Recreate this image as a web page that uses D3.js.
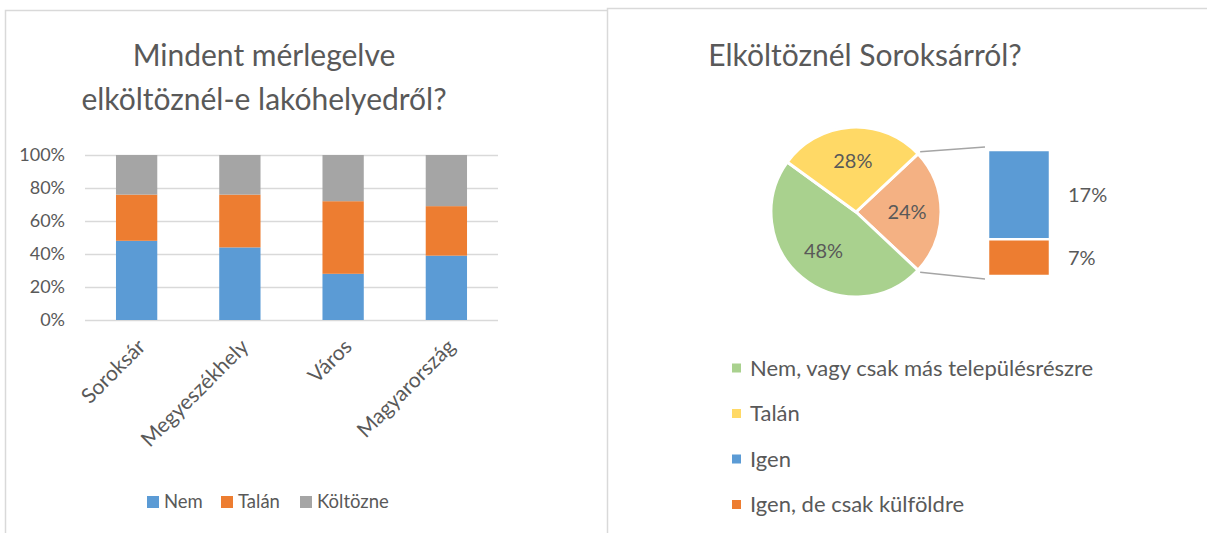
<!DOCTYPE html>
<html><head><meta charset="utf-8">
<script src="https://cdn.jsdelivr.net/npm/d3@7"></script>
<style>
html,body{margin:0;padding:0;background:#fff;}
svg text{font-family:Lato,"Open Sans",sans-serif;fill:#595959;}
</style></head>
<body>
<svg id="c" width="1207" height="533"></svg>
<script>
// ---- Data: left chart ----
const categories = ["Soroksár", "Megyeszékhely", "Város", "Magyarország"];
const seriesNames = ["Nem", "Talán", "Költözne"];
const nemValues = [48, 44, 28, 39];
const talanValues = [28, 32, 44, 30];
const koltozneValues = [24, 24, 28, 31];
const yTickValues = [0, 20, 40, 60, 80, 100];
const leftTitle = ["Mindent mérlegelve", "elköltöznél-e lakóhelyedről?"];

// ---- Data: right chart ----
const rightTitle = "Elköltöznél Soroksárról?";
const pieLabels = ["Nem, vagy csak más településrészre", "Talán", "Igen (összesen)"];
const pieValues = [48, 28, 24];
const barLabels = ["Igen", "Igen, de csak külföldre"];
const barValues = [17, 7];
const legendLabels = ["Nem, vagy csak más településrészre", "Talán", "Igen", "Igen, de csak külföldre"];

const svg = d3.select("#c");
const grid = "#d9d9d9";
const colors = {nem:"#5B9BD5", talan:"#ED7D31", kolt:"#A5A5A5", green:"#A9D18E", yellow:"#FFD966", peach:"#F4B183"};

// panel borders
svg.append("path").attr("d","M5.5,533V10.5H607").attr("fill","none").attr("stroke",grid).attr("stroke-width",1.5);
svg.append("path").attr("d","M607.5,533V8.5H1207").attr("fill","none").attr("stroke",grid).attr("stroke-width",1.5);

// ---- Left chart ----
const L = svg.append("g");
L.selectAll("text.title").data(leftTitle).join("text")
  .attr("x",264).attr("y",(d,i)=>66+i*44).attr("text-anchor","middle")
  .style("font-size","30px").text(d=>d);

const x = d3.scaleBand().domain(categories).range([85,498]).paddingInner(0.6).paddingOuter(0.3);
const y = d3.scaleLinear().domain([0,100]).range([320,155]);

const gy = L.append("g").attr("transform","translate(85,0)")
  .call(d3.axisLeft(y).tickValues(yTickValues).tickSize(-413).tickFormat(d=>d+"%").tickPadding(20));
gy.select(".domain").remove();
gy.selectAll(".tick line").attr("stroke",grid).attr("stroke-width",1.3);
gy.selectAll(".tick text").style("font-size","18px").attr("fill","#595959").attr("font-family",null);

const rows = categories.map((c,i)=>({cat:c, Nem:nemValues[i], "Talán":talanValues[i], "Költözne":koltozneValues[i]}));
const stack = d3.stack().keys(seriesNames)(rows);
const sColors = [colors.nem, colors.talan, colors.kolt];
L.selectAll("g.series").data(stack).join("g").attr("fill",(d,i)=>sColors[i])
  .selectAll("rect").data(d=>d).join("rect")
  .attr("x",d=>x(d.data.cat)).attr("width",x.bandwidth())
  .attr("y",d=>y(d[1])).attr("height",d=>y(d[0])-y(d[1]));

const gx = L.append("g").attr("transform","translate(0,320)")
  .call(d3.axisBottom(x).tickSize(0).tickPadding(0));
gx.select(".domain").remove();
gx.selectAll(".tick text").style("font-size","21px").attr("fill","#595959").attr("font-family",null)
  .attr("text-anchor","end").attr("y",0).attr("dy",0)
  .attr("transform","translate(10,28) rotate(-45)");

// legend left
const legL = L.append("g");
const legX = [147, 221, 300];
seriesNames.forEach((s,i)=>{
  legL.append("rect").attr("x",legX[i]).attr("y",496).attr("width",12).attr("height",12).attr("fill",sColors[i]);
  legL.append("text").attr("x",legX[i]+17).attr("y",508).style("font-size","18.5px").text(s);
});

// ---- Right chart ----
const R = svg.append("g");
R.append("text").attr("x",865).attr("y",66).attr("text-anchor","middle").style("font-size","30px").text(rightTitle);

const cx = 856, cy = 212, r = 85;
const total = d3.sum(pieValues);
const order = [2,0,1];
const pieColors = [colors.green, colors.yellow, colors.peach];
const pie = d3.pie().sort(null).value(i=>pieValues[i])
  .startAngle(Math.PI/2 - pieValues[2]/total*Math.PI)
  .endAngle(Math.PI/2 - pieValues[2]/total*Math.PI + 2*Math.PI);
const arcs = pie(order);
const arc = d3.arc().innerRadius(0).outerRadius(r);
const pg = R.append("g").attr("transform",`translate(${cx},${cy})`);
pg.selectAll("path").data(arcs).join("path").attr("d",arc)
  .attr("fill",d=>pieColors[d.data]).attr("stroke","#fff").attr("stroke-width",3).attr("stroke-linejoin","round");
const lblArc = d3.arc().innerRadius(r*0.6).outerRadius(r*0.6);
pg.selectAll("text").data(arcs).join("text")
  .attr("transform",d=>`translate(${lblArc.centroid(d)})`)
  .attr("text-anchor","middle").attr("dy","0.35em").style("font-size","20px")
  .text(d=>pieValues[d.data]+"%");

// secondary bar
const bx0 = 988, bw = 62;
const by = d3.scaleLinear().domain([0,d3.sum(barValues)]).range([150,276]);
const cum = d3.cumsum([0].concat(barValues));
const barColors = [colors.nem, colors.talan];
R.selectAll("rect.sb").data(barValues).join("rect").attr("class","sb")
  .attr("x",bx0).attr("width",bw)
  .attr("y",(d,i)=>by(cum[i])).attr("height",(d,i)=>by(cum[i+1])-by(cum[i]))
  .attr("fill",(d,i)=>barColors[i]).attr("stroke","#fff").attr("stroke-width",2.5);
R.selectAll("text.sbl").data(barValues).join("text").attr("class","sbl")
  .attr("x",1068).attr("y",(d,i)=>(by(cum[i])+by(cum[i+1]))/2).attr("dy","0.35em")
  .style("font-size","20px").text(d=>d+"%");

// connector lines
const a0 = arcs[0];
const p1 = [cx + (r+3)*Math.sin(a0.startAngle), cy - (r+3)*Math.cos(a0.startAngle)];
const p2 = [cx + (r+3)*Math.sin(a0.endAngle), cy - (r+3)*Math.cos(a0.endAngle)];
R.append("line").attr("x1",p1[0]).attr("y1",p1[1]).attr("x2",bx0-3).attr("y2",by(0)-3).attr("stroke","#a5a5a5").attr("stroke-width",1.5);
R.append("line").attr("x1",p2[0]).attr("y1",p2[1]).attr("x2",bx0-3).attr("y2",by(d3.sum(barValues))+3).attr("stroke","#a5a5a5").attr("stroke-width",1.5);

// legend right
const legColors = [colors.green, colors.yellow, colors.nem, colors.talan];
legendLabels.forEach((s,i)=>{
  const yy = 368 + i*45.5;
  R.append("rect").attr("x",732).attr("y",yy-4.5).attr("width",9).attr("height",9).attr("fill",legColors[i]);
  R.append("text").attr("x",750).attr("y",yy).attr("dy","0.35em").style("font-size","22px").text(s);
});
</script>
</body></html>
